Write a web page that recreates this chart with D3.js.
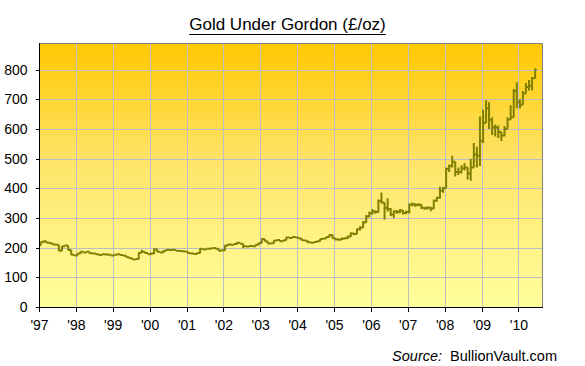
<!DOCTYPE html>
<html>
<head>
<meta charset="utf-8">
<script src="https://cdn.jsdelivr.net/npm/d3@7"></script>
<style>
  body { margin: 0; background: #fff; }
  text { font-family: "Liberation Sans", Arial, sans-serif; fill: #000; }
</style>
</head>
<body>
<svg></svg>
<script>
const width = 585;
const height = 366;

// monthly bars, Jan 1997 .. Jun 2010 (£/oz)
const firstMonth = new Date(1997, 0, 1);
const firstOpen = 208;
const closes = [
    218, 222, 217, 215, 211, 210, 190, 205, 207, 192, 176, 174,
    180, 186, 184, 186, 181, 180, 178, 175, 178, 177, 176, 174,
    176, 178, 175, 173, 168, 164, 160, 162, 183, 186, 182, 178,
    180, 195, 186, 184, 190, 193, 192, 193, 190, 189, 188, 186,
    181, 180, 179, 182, 196, 194, 196, 197, 199, 196, 190, 191,
    207, 211, 210, 212, 217, 213, 205, 204, 206, 205, 210, 216,
    229, 222, 214, 215, 224, 226, 222, 225, 234, 233, 236, 234,
    231, 225, 223, 218, 217, 219, 222, 229, 231, 236, 243, 232,
    228, 227, 230, 232, 238, 248, 246, 262, 268, 285, 305, 316,
    322, 320, 358, 352, 335, 330, 312, 322, 320, 325, 317, 320,
    345, 346, 344, 345, 335, 333, 335, 332, 358, 368, 392, 400,
    465, 475, 490, 455, 455, 468, 470, 450, 470, 515, 510, 560,
    620, 670, 630, 605, 605, 590, 578, 600, 632, 640, 728, 690,
    682, 720, 742, 745, 772, 800
];
const highs = [
    220, 224, 222, 218, 215, 212, 210, 206, 209, 207, 192, 177,
    181, 187, 186, 187, 186, 182, 180, 178, 179, 179, 178, 177,
    177, 179, 178, 176, 173, 168, 164, 163, 184, 193, 186, 182,
    184, 198, 195, 187, 191, 194, 194, 194, 193, 191, 190, 189,
    186, 182, 181, 183, 199, 197, 197, 198, 201, 199, 196, 192,
    208, 212, 212, 213, 219, 217, 213, 206, 207, 207, 211, 217,
    231, 230, 222, 216, 225, 227, 226, 226, 236, 235, 237, 237,
    235, 232, 226, 224, 219, 220, 223, 230, 232, 237, 245, 244,
    232, 230, 234, 235, 241, 252, 250, 265, 272, 290, 310, 322,
    330, 326, 362, 386, 352, 367, 334, 326, 327, 330, 326, 325,
    350, 352, 350, 350, 346, 338, 340, 338, 362, 372, 405, 405,
    470, 480, 510, 485, 470, 478, 485, 470, 500, 553, 540, 642,
    665, 697, 690, 640, 615, 612, 590, 610, 640, 680, 735, 758,
    700, 728, 755, 765, 775, 805
];
const lows = [
    206, 217, 216, 214, 210, 208, 189, 189, 204, 191, 175, 172,
    173, 179, 183, 183, 180, 179, 177, 174, 174, 176, 175, 173,
    173, 175, 174, 172, 167, 163, 159, 159, 161, 182, 181, 177,
    176, 179, 185, 183, 183, 189, 191, 191, 189, 188, 187, 185,
    180, 179, 178, 178, 181, 193, 193, 195, 196, 195, 189, 189,
    190, 206, 209, 209, 211, 212, 198, 203, 203, 204, 204, 209,
    215, 221, 213, 213, 214, 223, 221, 221, 224, 232, 232, 233,
    230, 224, 222, 216, 215, 216, 218, 221, 228, 230, 235, 231,
    224, 223, 226, 228, 229, 236, 242, 245, 258, 266, 284, 303,
    312, 314, 318, 348, 295, 322, 306, 300, 314, 316, 312, 313,
    315, 340, 338, 340, 330, 328, 329, 323, 330, 355, 366, 385,
    400, 455, 470, 440, 445, 450, 460, 430, 426, 475, 470, 475,
    553, 620, 600, 580, 575, 570, 560, 575, 600, 630, 640, 670,
    670, 690, 725, 730, 730, 770
];
const yearLabels = ["'97", "'98", "'99", "'00", "'01", "'02", "'03", "'04", "'05", "'06", "'07", "'08", "'09", "'10"];
const priceTicks = [0, 100, 200, 300, 400, 500, 600, 700, 800];

const plot = { left: 39, right: 542, top: 43, bottom: 307 };

const svg = d3.select('svg')
    .attr('width', width).attr('height', height);

const x = d3.scaleTime()
    .domain([new Date(1997, 0, 1), new Date(2010, 7, 23)])
    .range([plot.left, plot.right]);
const y = d3.scaleLinear()
    .domain([0, 890])
    .range([plot.bottom, plot.top]);

const yearDates = yearLabels.map((d, i) => new Date(1997 + i, 0, 1));

// background gradient
const grad = svg.append('defs').append('linearGradient')
    .attr('id', 'bg').attr('x1', 0).attr('y1', 0).attr('x2', 0).attr('y2', 1);
grad.append('stop').attr('offset', '0%').attr('stop-color', '#ffc800');
grad.append('stop').attr('offset', '45%').attr('stop-color', '#ffe46a');
grad.append('stop').attr('offset', '100%').attr('stop-color', '#ffff9c');

svg.append('rect')
    .attr('x', plot.left).attr('y', plot.top)
    .attr('width', plot.right - plot.left).attr('height', plot.bottom - plot.top)
    .attr('fill', 'url(#bg)');

// grid
const grid = svg.append('g').attr('stroke', '#bdbdc6').attr('stroke-width', 1)
    .attr('shape-rendering', 'crispEdges');
grid.selectAll('.hg').data(priceTicks.slice(1)).enter().append('line')
    .attr('x1', plot.left).attr('x2', plot.right)
    .attr('y1', d => Math.round(y(d)) + 0.5).attr('y2', d => Math.round(y(d)) + 0.5);
grid.selectAll('.vg').data(yearDates.slice(1)).enter().append('line')
    .attr('y1', plot.top).attr('y2', plot.bottom)
    .attr('x1', d => Math.round(x(d)) + 0.5).attr('x2', d => Math.round(x(d)) + 0.5);

// plot border (top/right grey)
svg.append('path')
    .attr('d', `M${plot.left},${plot.top + 0.5}H${plot.right + 0.5}V${plot.bottom}`)
    .attr('fill', 'none').attr('stroke', '#808080').attr('stroke-width', 1);

// price bars
const bars = closes.map((c, i) => {
    const t0 = d3.timeMonth.offset(firstMonth, i);
    const t1 = d3.timeMonth.offset(firstMonth, i + 1);
    const open = i === 0 ? firstOpen : closes[i - 1];
    return { t0, t1, open, close: c, high: highs[i], low: lows[i] };
});

const barPath = d3.path();
bars.forEach(b => {
    const x0 = x(b.t0), x1 = x(b.t1), xm = (x0 + x1) / 2;
    const hi = Math.max(b.high, b.open, b.close);
    const lo = Math.min(b.low, b.open, b.close);
    barPath.moveTo(xm, y(hi)); barPath.lineTo(xm, y(lo));
    barPath.moveTo(x0, y(b.open)); barPath.lineTo(xm, y(b.open));
    barPath.moveTo(xm, y(b.close)); barPath.lineTo(x1, y(b.close));
});
svg.append('path')
    .attr('d', barPath.toString())
    .attr('fill', 'none')
    .attr('stroke', '#808000')
    .attr('stroke-width', 2)
    .attr('stroke-linecap', 'butt');

// axes
const yAxis = d3.axisLeft(y).tickValues(priceTicks).tickSize(4).tickPadding(8);
svg.append('g')
    .attr('transform', `translate(${plot.left + 0.5},0)`)
    .call(yAxis)
    .call(g => g.select('.domain').attr('d', `M0,${plot.top}V${plot.bottom + 0.5}`))
    .call(g => g.selectAll('text').style('font-size', '14px').attr('font-family', null));

const xAxis = d3.axisBottom(x).tickValues(yearDates)
    .tickFormat((d, i) => yearLabels[i]).tickSize(4).tickPadding(9);
svg.append('g')
    .attr('transform', `translate(0,${plot.bottom + 0.5})`)
    .call(xAxis)
    .call(g => g.select('.domain').attr('d', `M${plot.left},0H${plot.right + 0.5}`))
    .call(g => g.selectAll('text').style('font-size', '14px').attr('font-family', null));

svg.selectAll('.tick line, .domain').attr('stroke', '#000').attr('shape-rendering', 'crispEdges');

// title
const title = svg.append('text')
    .attr('x', 287.5).attr('y', 30)
    .attr('text-anchor', 'middle')
    .style('font-size', '17px')
    .text('Gold Under Gordon (£/oz)');
const tb = title.node().getBBox();
svg.append('line')
    .attr('x1', tb.x).attr('x2', tb.x + tb.width)
    .attr('y1', 34.5).attr('y2', 34.5)
    .attr('stroke', '#000').attr('stroke-width', 1);

// source note
const src = svg.append('text')
    .attr('x', 557).attr('y', 361)
    .attr('text-anchor', 'end')
    .style('font-size', '14.5px');
src.append('tspan').style('font-style', 'italic').text('Source:');
src.append('tspan').attr('dx', 8).text('BullionVault.com');
</script>
</body>
</html>
